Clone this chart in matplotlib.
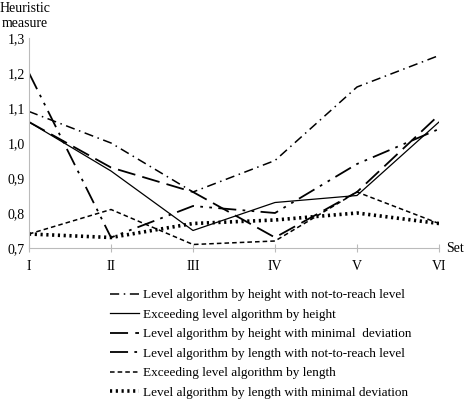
import matplotlib.pyplot as plt

plt.rcParams['font.family'] = ['Liberation Serif', 'DejaVu Serif']
plt.rcParams['font.size'] = 9.5

sets = ["I", "II", "III", "IV", "V", "VI"]
yticks = [0.7, 0.8, 0.9, 1.0, 1.1, 1.2, 1.3]

h_not_reach = [1.09, 1.00, 0.86, 0.95, 1.16, 1.25]
h_exceed = [1.06, 0.92, 0.75, 0.83, 0.85, 1.06]
h_min_dev = [1.06, 0.93, 0.86, 0.73, 0.86, 1.08]
l_not_reach = [1.20, 0.73, 0.82, 0.80, 0.94, 1.04]
l_exceed = [0.74, 0.81, 0.71, 0.72, 0.86, 0.77]
l_min_dev = [0.74, 0.73, 0.77, 0.78, 0.80, 0.77]

labels = [
    "Level algorithm by height with not-to-reach level",
    "Exceeding level algorithm by height",
    "Level algorithm by height with minimal  deviation",
    "Level algorithm by length with not-to-reach level",
    "Exceeding level algorithm by length",
    "Level algorithm by length with minimal deviation",
]

fig = plt.figure(figsize=(4.73, 4.01), dpi=100)
ax = fig.add_axes([29 / 473, 1 - 248 / 401, 410 / 473, 210 / 401])

x = range(len(sets))
ax.plot(x, h_not_reach, color="black", lw=1.1, ls=(0, (6, 3, 1, 3)), label=labels[0])
ax.plot(x, h_exceed, color="black", lw=0.9, ls="-", label=labels[1])
ax.plot(x, h_min_dev, color="black", lw=1.3, ls=(0, (10, 4)), label=labels[2])
ax.plot(x, l_not_reach, color="black", lw=1.3, ls=(0, (10, 3.5, 1.5, 3.5, 1.5, 3.5)), label=labels[3])
ax.plot(x, l_exceed, color="black", lw=1.1, ls=(0, (3, 2)), label=labels[4])
ax.plot(x, l_min_dev, color="black", lw=2.6, ls=(0, (0.6, 1.0)), label=labels[5])

ax.set_xlim(0, 5)
ax.set_ylim(0.7, 1.3)
ax.set_xticks(list(x))
ax.set_xticklabels(sets, fontsize=10)
ax.set_yticks(yticks)
ax.set_yticklabels([f"{v:.1f}".replace(".", ",") for v in yticks], fontsize=10)

for s in ["top", "right"]:
    ax.spines[s].set_visible(False)
for s in ["left", "bottom"]:
    ax.spines[s].set_color("#bbbbbb")
ax.tick_params(axis="x", direction="inout", length=6, color="#bbbbbb", pad=6)
ax.tick_params(axis="y", length=0, pad=3)

fig.text(25 / 473, 1 - 16 / 401, "Heuristic\nmeasure", ha="center", va="center",
         linespacing=1.25, fontsize=10)
fig.text(455 / 473, 1 - 248 / 401, "Set", ha="center", va="center", fontsize=10)

handles, labs = ax.get_legend_handles_labels()
fig.legend(handles, labs, loc="upper left", bbox_to_anchor=(110 / 473, 1 - 289 / 401),
           frameon=False, handlelength=2.2, handletextpad=0.3, labelspacing=0.55,
           borderpad=0, borderaxespad=0)

fig.savefig("out.png", dpi=100)
